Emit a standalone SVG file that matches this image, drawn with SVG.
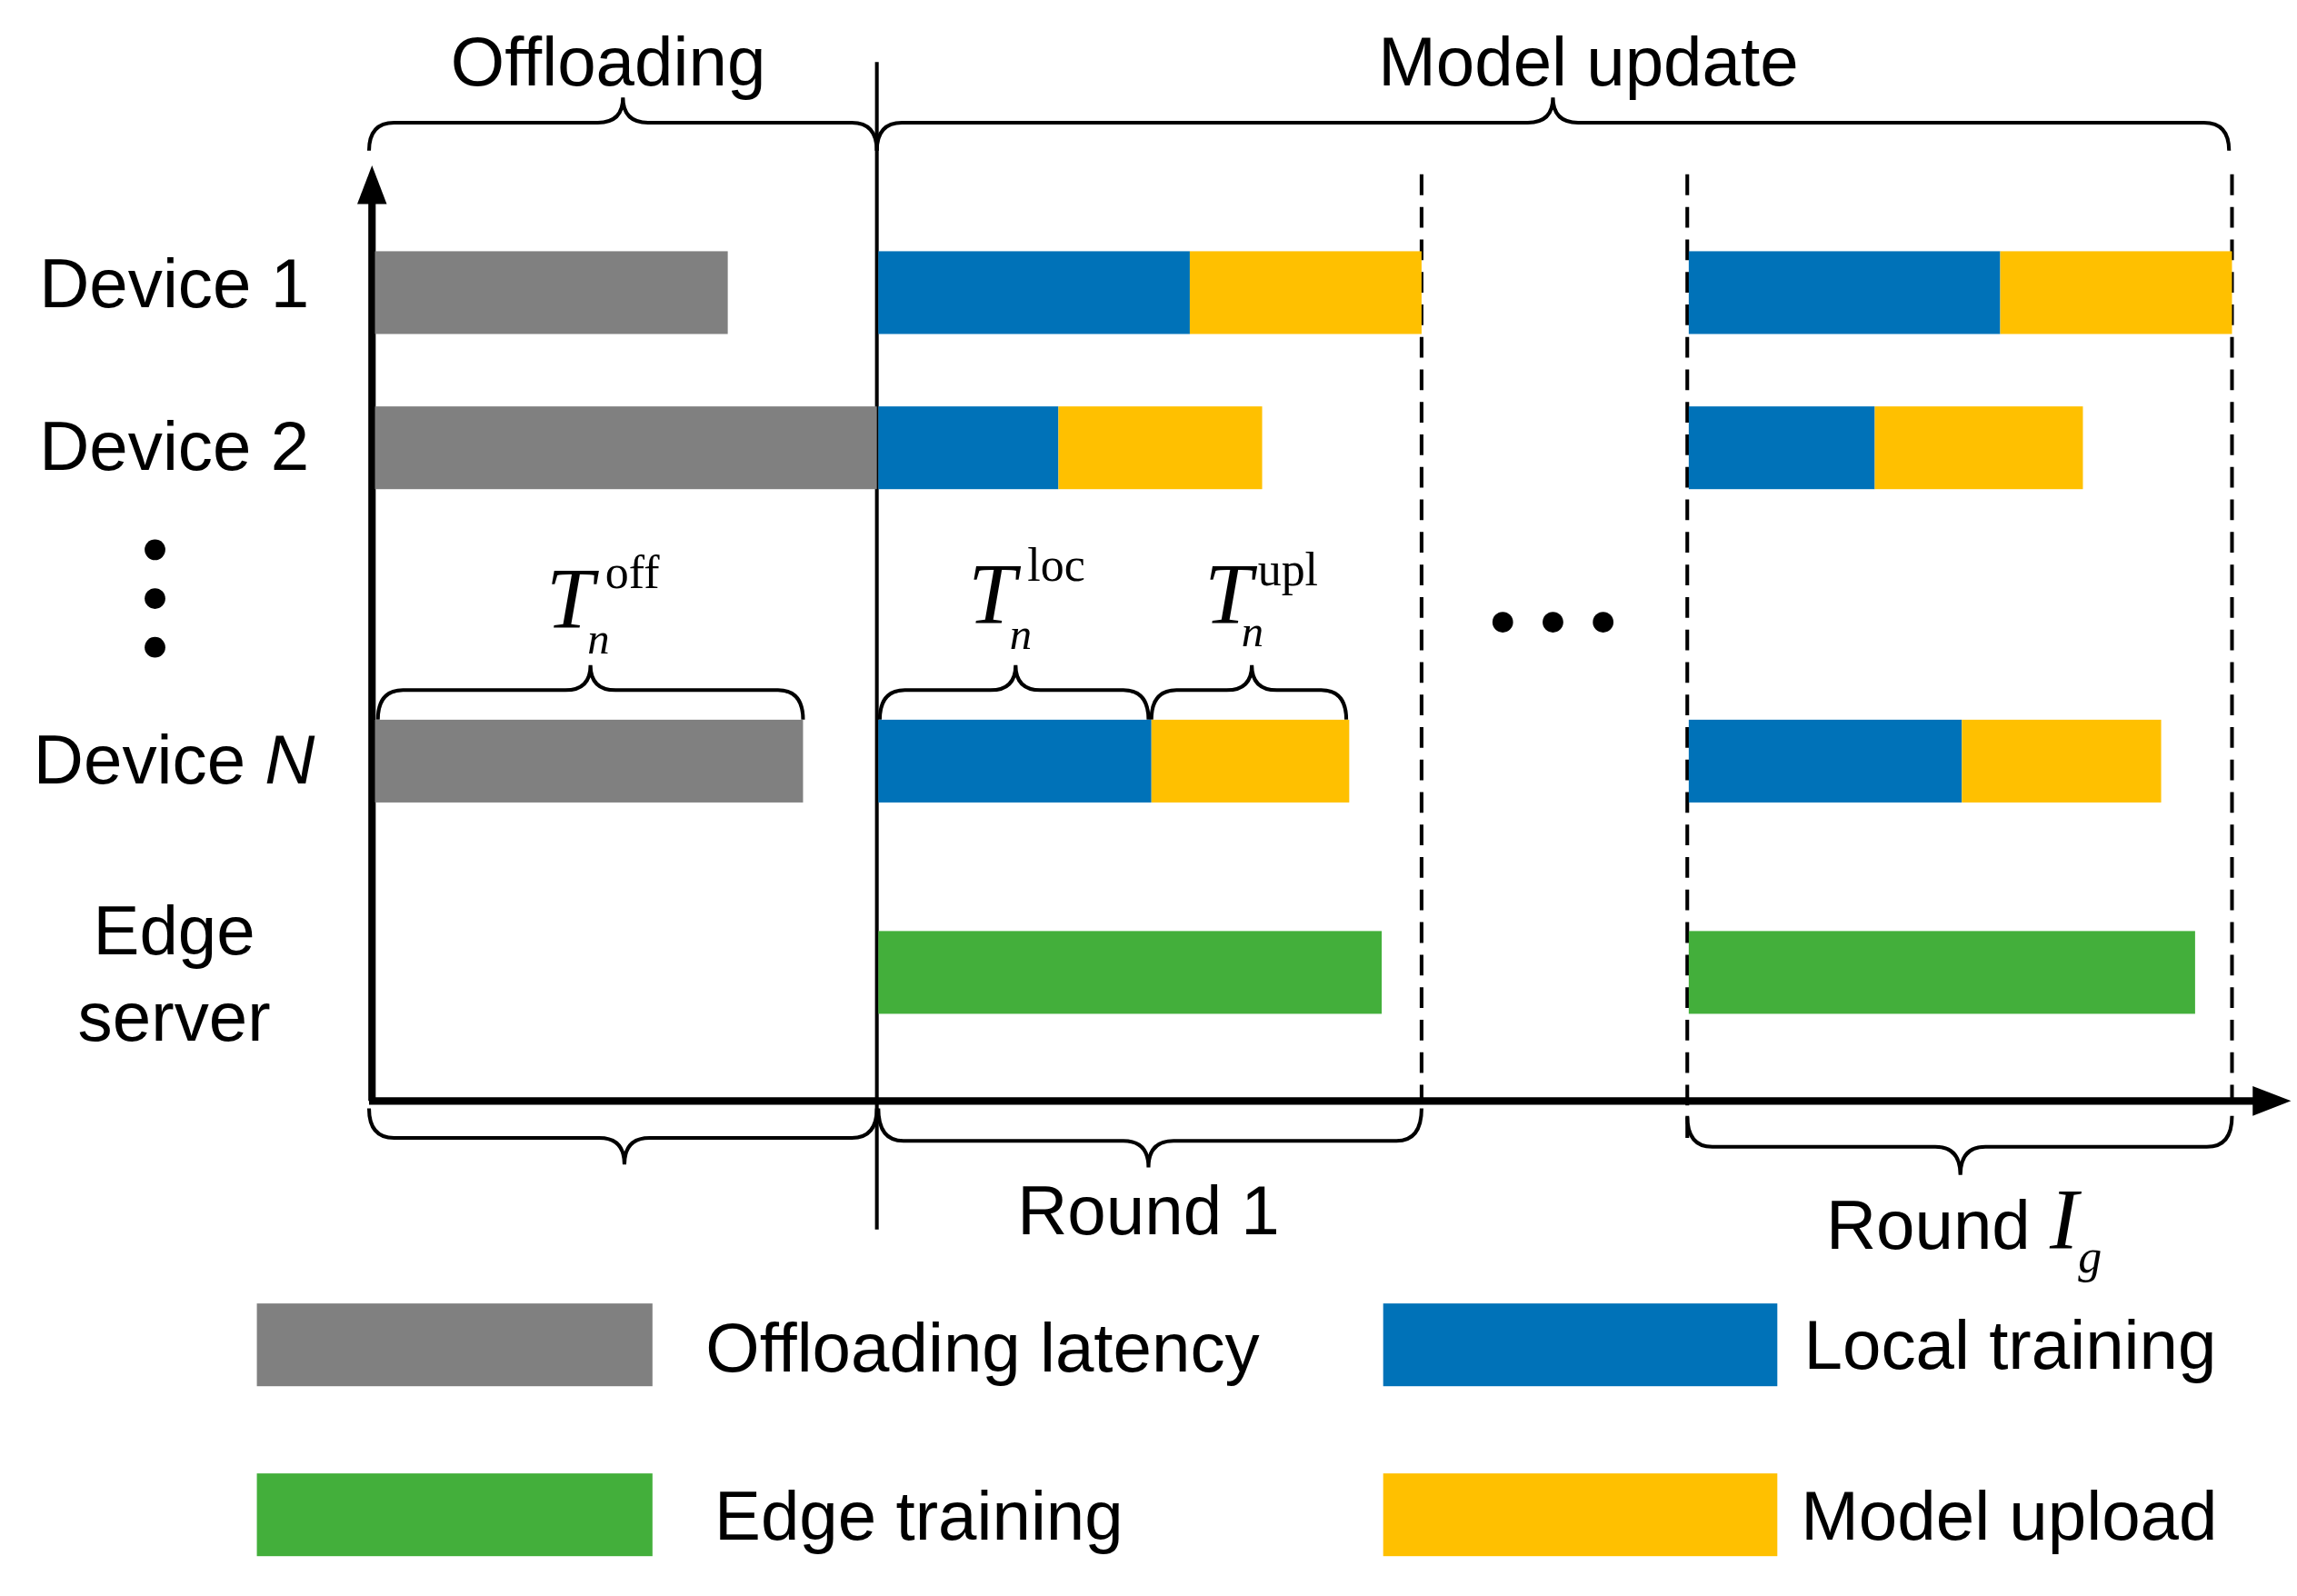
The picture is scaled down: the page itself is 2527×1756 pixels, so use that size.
<svg xmlns="http://www.w3.org/2000/svg" width="2527" height="1756" viewBox="0 0 2527 1756">
<defs><style>
.t{font-family:"Liberation Sans",Arial,sans-serif;font-size:47px;fill:#000}
.m{font-family:"Liberation Serif","Times New Roman",serif;font-style:italic;fill:#000}
.mr{font-family:"Liberation Serif","Times New Roman",serif;fill:#000}
.br{fill:none;stroke:#000;stroke-width:2.5}
.g{fill:#808080}.b{fill:#0072B8}.y{fill:#FFC000}.gr{fill:#43AF3B}
.d{stroke:#000;stroke-width:2.5;stroke-dasharray:14,8}
</style></defs>
<rect width="2527" height="1756" fill="#fff"/>
<g transform="scale(1.624,1.626)">
<g id="connectors">
<line x1="252" y1="745" x2="252" y2="135" stroke="#000" stroke-width="5"/>
<polygon points="252,112 242,138 262,138" fill="#000"/>
<line x1="250" y1="745" x2="1530" y2="745" stroke="#000" stroke-width="5"/>
<polygon points="1552,745 1526,735 1526,755" fill="#000"/>
<line x1="594" y1="42" x2="594" y2="832" stroke="#000" stroke-width="2.5"/>
<line class="d" x1="963" y1="118" x2="963" y2="745"/>
<line class="d" x1="1143" y1="118" x2="1143" y2="770"/>
<line class="d" x1="1512" y1="118" x2="1512" y2="745"/>
<path class="br" d="M250,102 Q250,83 267,83 L405,83 Q422,83 422,66 Q422,83 439,83 L577,83 Q594,83 594,102"/>
<path class="br" d="M594,102 Q594,83 611,83 L1035,83 Q1052,83 1052,66 Q1052,83 1069,83 L1493,83 Q1510,83 1510,102"/>
<path class="br" d="M256,487 Q256,467 273,467 L383,467 Q400,467 400,450 Q400,467 417,467 L527,467 Q544,467 544,487"/>
<path class="br" d="M596,487 Q596,467 613,467 L671,467 Q688,467 688,450 Q688,467 705,467 L761,467 Q778,467 778,487"/>
<path class="br" d="M780,487 Q780,467 797,467 L831,467 Q848,467 848,450 Q848,467 865,467 L895,467 Q912,467 912,487"/>
<path class="br" d="M250,750 Q250,770 267,770 L406,770 Q423,770 423,788 Q423,770 440,770 L577,770 Q594,770 594,750"/>
<path class="br" d="M595,750 Q595,772 612,772 L761,772 Q778,772 778,790 Q778,772 795,772 L946,772 Q963,772 963,750"/>
<path class="br" d="M1143,755 Q1143,776 1160,776 L1311,776 Q1328,776 1328,795 Q1328,776 1345,776 L1495,776 Q1512,776 1512,755"/>
</g>
<g id="device1">
<text class="t" x="118" y="208" text-anchor="middle">Device 1</text>
<rect class="g" x="254" y="170" width="239" height="56"/>
<rect class="b" x="595" y="170" width="211" height="56"/><rect class="y" x="806" y="170" width="157" height="56"/>
<rect class="b" x="1144" y="170" width="211" height="56"/><rect class="y" x="1355" y="170" width="157" height="56"/>
</g>
<g id="device2">
<text class="t" x="118" y="318" text-anchor="middle">Device 2</text>
<rect class="g" x="254" y="275" width="340" height="56"/>
<rect class="b" x="595" y="275" width="122" height="56"/><rect class="y" x="717" y="275" width="138" height="56"/>
<rect class="b" x="1144" y="275" width="126" height="56"/><rect class="y" x="1270" y="275" width="141" height="56"/>
</g>
<g id="vdots"><circle cx="105" cy="372" r="7"/><circle cx="105" cy="405" r="7"/><circle cx="105" cy="438" r="7"/></g>
<g id="hdots"><circle cx="1018" cy="421" r="7"/><circle cx="1052" cy="421" r="7"/><circle cx="1086" cy="421" r="7"/></g>
<g id="deviceN">
<text class="t" x="118" y="530" text-anchor="middle">Device <tspan font-style="italic">N</tspan></text>
<rect class="g" x="254" y="487" width="290" height="56"/>
<rect class="b" x="595" y="487" width="185" height="56"/><rect class="y" x="780" y="487" width="134" height="56"/>
<rect class="b" x="1144" y="487" width="185" height="56"/><rect class="y" x="1329" y="487" width="135" height="56"/>
</g>
<g id="edge">
<text class="t" x="118" y="646" text-anchor="middle">Edge</text>
<text class="t" x="118" y="704" text-anchor="middle">server</text>
<rect class="gr" x="595" y="630" width="341" height="56"/>
<rect class="gr" x="1144" y="630" width="343" height="56"/>
</g>
<g id="labels">
<text class="t" x="412" y="58" text-anchor="middle" font-size="48">Offloading</text>
<text class="t" x="1076" y="58" text-anchor="middle" font-size="48">Model update</text>
<text class="m" x="370" y="425" font-size="58">T</text><text class="m" x="398" y="442" font-size="30">n</text><text class="mr" x="410" y="398" font-size="32">off</text>
<text class="m" x="656" y="422" font-size="58">T</text><text class="m" x="684" y="439" font-size="30">n</text><text class="mr" x="696" y="393" font-size="32">loc</text>
<text class="m" x="816" y="422" font-size="58">T</text><text class="m" x="841" y="437" font-size="30">n</text><text class="mr" x="852" y="396" font-size="32">upl</text>
<text class="t" x="778" y="835" text-anchor="middle">Round 1</text>
<text class="t" x="1237" y="845">Round <tspan class="m" font-size="58">I</tspan><tspan class="m" font-size="32" dy="16">g</tspan></text>
</g>
<g id="legend">
<rect class="g" x="174" y="882" width="268" height="56"/><text class="t" x="478" y="928">Offloading latency</text>
<rect class="b" x="937" y="882" width="267" height="56"/><text class="t" x="1222" y="926">Local training</text>
<rect class="gr" x="174" y="997" width="268" height="56"/><text class="t" x="484" y="1042">Edge training</text>
<rect class="y" x="937" y="997" width="267" height="56"/><text class="t" x="1220" y="1042">Model upload</text>
</g>
</g>
</svg>
